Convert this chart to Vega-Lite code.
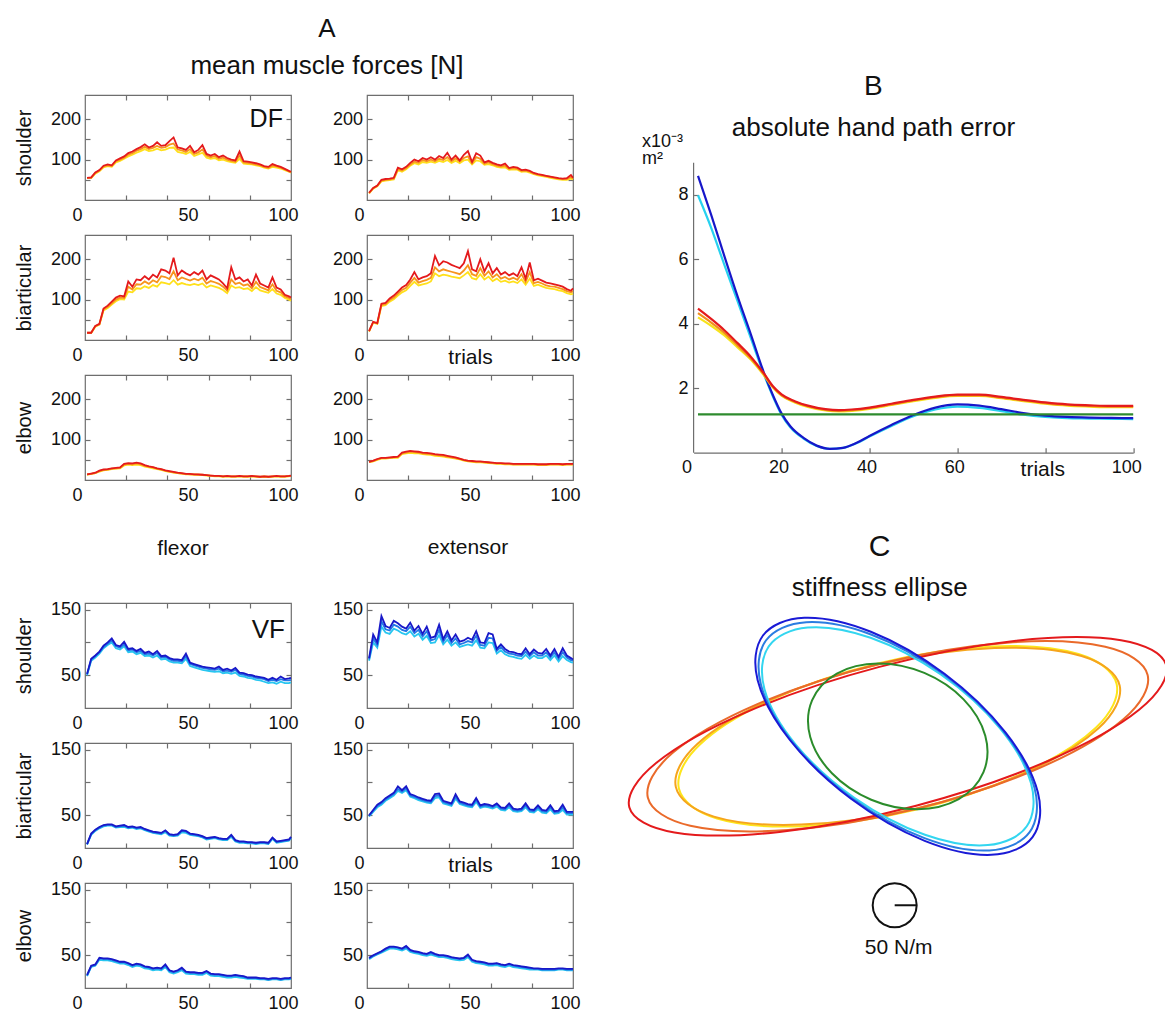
{
"$schema": "https://vega.github.io/schema/vega-lite/v6.json",
"background": "white",
"padding": {"left": 13, "top": 15, "right": 0, "bottom": 0},
"config": {
 "font": "Liberation Sans",
 "view": {"stroke": "#6e6e6e", "strokeWidth": 1.2},
 "axis": {"labelFont": "Liberation Sans", "labelFontSize": 18, "labelColor": "#111", "titleFont": "Liberation Sans", "titleFontSize": 20, "titleFontWeight": "normal", "titleColor": "#111", "grid": false, "domain": false, "tickSize": -5, "tickColor": "#6e6e6e", "tickWidth": 1.2, "labelPadding": 11, "labelFlush": false, "labelOverlap": false, "titlePadding": 16},
 "axisY": {"labelPadding": 9.5},
 "axisTop": {"labels": false},
 "axisRight": {"labels": false},
 "title": {"font": "Liberation Sans", "fontWeight": "normal", "color": "#111", "subtitleFont": "Liberation Sans", "subtitleColor": "#111"},
 "text": {"font": "Liberation Sans", "color": "#111"},
 "line": {"strokeWidth": 1.8}
},
"datasets": {
"dfSF": [{"t":1,"r":55,"o":55,"y":54},{"t":3,"r":56,"o":55,"y":54},{"t":5,"r":68,"o":67,"y":65},{"t":7,"r":74,"o":73,"y":71},{"t":9,"r":85,"o":83,"y":81},{"t":11,"r":88,"o":86,"y":84},{"t":13,"r":86,"o":84,"y":82},{"t":15,"r":98,"o":96,"y":93},{"t":17,"r":103,"o":100,"y":97},{"t":19,"r":108,"o":105,"y":102},{"t":21,"r":116,"o":112,"y":108},{"t":23,"r":120,"o":116,"y":112},{"t":25,"r":126,"o":122,"y":117},{"t":27,"r":131,"o":126,"y":121},{"t":29,"r":138,"o":132,"y":126},{"t":31,"r":130,"o":126,"y":121},{"t":33,"r":134,"o":129,"y":123},{"t":35,"r":143,"o":134,"y":127},{"t":37,"r":134,"o":129,"y":123},{"t":39,"r":136,"o":131,"y":125},{"t":41,"r":146,"o":137,"y":129},{"t":43,"r":155,"o":140,"y":130},{"t":45,"r":130,"o":125,"y":119},{"t":47,"r":128,"o":123,"y":117},{"t":49,"r":124,"o":119,"y":114},{"t":51,"r":134,"o":126,"y":119},{"t":53,"r":118,"o":114,"y":109},{"t":55,"r":124,"o":118,"y":113},{"t":57,"r":136,"o":125,"y":117},{"t":59,"r":114,"o":110,"y":105},{"t":61,"r":110,"o":106,"y":102},{"t":63,"r":114,"o":109,"y":104},{"t":65,"r":106,"o":102,"y":98},{"t":67,"r":110,"o":105,"y":100},{"t":69,"r":104,"o":100,"y":96},{"t":71,"r":100,"o":97,"y":94},{"t":73,"r":98,"o":95,"y":92},{"t":75,"r":120,"o":110,"y":102},{"t":77,"r":96,"o":93,"y":90},{"t":79,"r":95,"o":92,"y":89},{"t":81,"r":93,"o":90,"y":88},{"t":83,"r":91,"o":88,"y":86},{"t":85,"r":88,"o":86,"y":84},{"t":87,"r":84,"o":82,"y":80},{"t":89,"r":82,"o":80,"y":78},{"t":91,"r":89,"o":85,"y":82},{"t":93,"r":85,"o":83,"y":80},{"t":95,"r":82,"o":80,"y":78},{"t":97,"r":77,"o":76,"y":74},{"t":99,"r":72,"o":71,"y":70},{"t":100,"r":70,"o":69,"y":68}],
"dfSE": [{"t":1,"r":18,"o":17,"y":16},{"t":3,"r":30,"o":29,"y":28},{"t":5,"r":36,"o":35,"y":34},{"t":7,"r":50,"o":48,"y":46},{"t":9,"r":52,"o":50,"y":48},{"t":11,"r":53,"o":51,"y":49},{"t":13,"r":55,"o":53,"y":51},{"t":15,"r":80,"o":77,"y":74},{"t":17,"r":76,"o":73,"y":70},{"t":19,"r":82,"o":79,"y":76},{"t":21,"r":92,"o":88,"y":85},{"t":23,"r":100,"o":95,"y":91},{"t":25,"r":96,"o":92,"y":88},{"t":27,"r":104,"o":99,"y":94},{"t":29,"r":100,"o":96,"y":92},{"t":31,"r":106,"o":100,"y":95},{"t":33,"r":100,"o":96,"y":92},{"t":35,"r":109,"o":102,"y":97},{"t":37,"r":104,"o":99,"y":94},{"t":39,"r":117,"o":106,"y":99},{"t":41,"r":100,"o":96,"y":92},{"t":43,"r":110,"o":103,"y":97},{"t":45,"r":98,"o":95,"y":91},{"t":47,"r":112,"o":104,"y":98},{"t":49,"r":121,"o":108,"y":100},{"t":51,"r":94,"o":91,"y":88},{"t":53,"r":116,"o":106,"y":98},{"t":55,"r":110,"o":102,"y":96},{"t":57,"r":93,"o":90,"y":87},{"t":59,"r":97,"o":93,"y":89},{"t":61,"r":92,"o":89,"y":86},{"t":63,"r":88,"o":85,"y":82},{"t":65,"r":86,"o":83,"y":80},{"t":67,"r":90,"o":85,"y":81},{"t":69,"r":79,"o":77,"y":75},{"t":71,"r":82,"o":79,"y":76},{"t":73,"r":80,"o":77,"y":75},{"t":75,"r":74,"o":72,"y":70},{"t":77,"r":75,"o":73,"y":71},{"t":79,"r":72,"o":70,"y":68},{"t":81,"r":67,"o":65,"y":64},{"t":83,"r":64,"o":63,"y":61},{"t":85,"r":62,"o":61,"y":59},{"t":87,"r":60,"o":59,"y":57},{"t":89,"r":58,"o":57,"y":55},{"t":91,"r":56,"o":55,"y":53},{"t":93,"r":54,"o":53,"y":51},{"t":95,"r":53,"o":52,"y":50},{"t":97,"r":54,"o":52,"y":50},{"t":99,"r":62,"o":57,"y":53},{"t":100,"r":55,"o":53,"y":51}],
"dfBF": [{"t":1,"r":18,"o":18,"y":17},{"t":3,"r":18,"o":18,"y":17},{"t":5,"r":35,"o":34,"y":33},{"t":7,"r":40,"o":39,"y":38},{"t":9,"r":78,"o":76,"y":73},{"t":11,"r":85,"o":82,"y":79},{"t":13,"r":95,"o":91,"y":88},{"t":15,"r":105,"o":100,"y":96},{"t":17,"r":110,"o":105,"y":101},{"t":19,"r":108,"o":104,"y":100},{"t":21,"r":145,"o":132,"y":120},{"t":23,"r":132,"o":125,"y":118},{"t":25,"r":150,"o":138,"y":128},{"t":27,"r":148,"o":137,"y":127},{"t":29,"r":158,"o":145,"y":133},{"t":31,"r":150,"o":139,"y":129},{"t":33,"r":162,"o":148,"y":136},{"t":35,"r":155,"o":143,"y":132},{"t":37,"r":175,"o":158,"y":143},{"t":39,"r":172,"o":156,"y":141},{"t":41,"r":165,"o":151,"y":138},{"t":43,"r":204,"o":170,"y":148},{"t":45,"r":160,"o":148,"y":137},{"t":47,"r":172,"o":155,"y":141},{"t":49,"r":165,"o":151,"y":138},{"t":51,"r":160,"o":147,"y":136},{"t":53,"r":168,"o":152,"y":139},{"t":55,"r":162,"o":148,"y":136},{"t":57,"r":172,"o":154,"y":140},{"t":59,"r":150,"o":140,"y":130},{"t":61,"r":160,"o":146,"y":135},{"t":63,"r":155,"o":143,"y":132},{"t":65,"r":150,"o":139,"y":129},{"t":67,"r":140,"o":132,"y":124},{"t":69,"r":128,"o":122,"y":116},{"t":71,"r":180,"o":150,"y":135},{"t":73,"r":150,"o":139,"y":129},{"t":75,"r":155,"o":142,"y":131},{"t":77,"r":145,"o":135,"y":126},{"t":79,"r":150,"o":138,"y":128},{"t":81,"r":135,"o":128,"y":121},{"t":83,"r":162,"o":144,"y":131},{"t":85,"r":140,"o":131,"y":123},{"t":87,"r":135,"o":127,"y":120},{"t":89,"r":130,"o":123,"y":117},{"t":91,"r":155,"o":138,"y":126},{"t":93,"r":130,"o":122,"y":115},{"t":95,"r":125,"o":118,"y":112},{"t":97,"r":112,"o":108,"y":104},{"t":99,"r":108,"o":104,"y":100},{"t":100,"r":105,"o":101,"y":97}],
"dfBE": [{"t":1,"r":22,"o":22,"y":21},{"t":3,"r":45,"o":44,"y":43},{"t":5,"r":42,"o":41,"y":40},{"t":7,"r":90,"o":87,"y":84},{"t":9,"r":92,"o":89,"y":86},{"t":11,"r":103,"o":99,"y":95},{"t":13,"r":110,"o":105,"y":101},{"t":15,"r":120,"o":115,"y":110},{"t":17,"r":130,"o":124,"y":118},{"t":19,"r":136,"o":129,"y":123},{"t":21,"r":150,"o":142,"y":134},{"t":23,"r":168,"o":154,"y":144},{"t":25,"r":150,"o":142,"y":135},{"t":27,"r":155,"o":146,"y":138},{"t":29,"r":158,"o":149,"y":140},{"t":31,"r":165,"o":154,"y":145},{"t":33,"r":208,"o":180,"y":165},{"t":35,"r":185,"o":170,"y":158},{"t":37,"r":195,"o":175,"y":162},{"t":39,"r":192,"o":172,"y":160},{"t":41,"r":186,"o":169,"y":157},{"t":43,"r":182,"o":166,"y":155},{"t":45,"r":178,"o":163,"y":153},{"t":47,"r":190,"o":172,"y":160},{"t":49,"r":220,"o":185,"y":168},{"t":51,"r":175,"o":163,"y":153},{"t":53,"r":170,"o":159,"y":150},{"t":55,"r":200,"o":178,"y":163},{"t":57,"r":170,"o":159,"y":150},{"t":59,"r":190,"o":170,"y":157},{"t":61,"r":165,"o":155,"y":146},{"t":63,"r":178,"o":163,"y":152},{"t":65,"r":162,"o":152,"y":144},{"t":67,"r":168,"o":156,"y":147},{"t":69,"r":160,"o":150,"y":142},{"t":71,"r":165,"o":154,"y":145},{"t":73,"r":158,"o":149,"y":141},{"t":75,"r":180,"o":163,"y":150},{"t":77,"r":152,"o":144,"y":137},{"t":79,"r":192,"o":168,"y":152},{"t":81,"r":148,"o":141,"y":134},{"t":83,"r":152,"o":144,"y":137},{"t":85,"r":147,"o":140,"y":133},{"t":87,"r":142,"o":135,"y":129},{"t":89,"r":140,"o":133,"y":127},{"t":91,"r":138,"o":132,"y":126},{"t":93,"r":135,"o":129,"y":123},{"t":95,"r":132,"o":126,"y":121},{"t":97,"r":126,"o":121,"y":116},{"t":99,"r":122,"o":118,"y":113},{"t":100,"r":128,"o":121,"y":115}],
"dfEF": [{"t":1,"r":14,"o":14,"y":13},{"t":3,"r":16,"o":15,"y":15},{"t":5,"r":18,"o":17,"y":17},{"t":7,"r":23,"o":22,"y":21},{"t":9,"r":26,"o":25,"y":24},{"t":11,"r":27,"o":26,"y":25},{"t":13,"r":29,"o":28,"y":27},{"t":15,"r":30,"o":29,"y":28},{"t":17,"r":31,"o":30,"y":29},{"t":19,"r":40,"o":38,"y":36},{"t":21,"r":42,"o":40,"y":38},{"t":23,"r":41,"o":39,"y":37},{"t":25,"r":43,"o":41,"y":38},{"t":27,"r":41,"o":39,"y":37},{"t":29,"r":37,"o":35,"y":33},{"t":31,"r":34,"o":33,"y":31},{"t":33,"r":32,"o":31,"y":29},{"t":35,"r":29,"o":28,"y":27},{"t":37,"r":27,"o":26,"y":25},{"t":39,"r":24,"o":23,"y":22},{"t":41,"r":22,"o":21,"y":20},{"t":43,"r":20,"o":19,"y":18},{"t":45,"r":18,"o":17,"y":17},{"t":47,"r":17,"o":16,"y":16},{"t":49,"r":15,"o":15,"y":14},{"t":51,"r":15,"o":14,"y":14},{"t":53,"r":14,"o":14,"y":13},{"t":55,"r":14,"o":13,"y":13},{"t":57,"r":13,"o":13,"y":12},{"t":59,"r":12,"o":12,"y":11},{"t":61,"r":11,"o":11,"y":10},{"t":63,"r":10,"o":10,"y":9},{"t":65,"r":10,"o":10,"y":9},{"t":67,"r":9,"o":9,"y":8},{"t":69,"r":10,"o":9,"y":9},{"t":71,"r":9,"o":9,"y":8},{"t":73,"r":9,"o":9,"y":8},{"t":75,"r":10,"o":9,"y":9},{"t":77,"r":9,"o":9,"y":8},{"t":79,"r":9,"o":9,"y":8},{"t":81,"r":10,"o":9,"y":9},{"t":83,"r":9,"o":9,"y":8},{"t":85,"r":8,"o":8,"y":7},{"t":87,"r":9,"o":9,"y":8},{"t":89,"r":8,"o":8,"y":7},{"t":91,"r":9,"o":9,"y":8},{"t":93,"r":10,"o":9,"y":9},{"t":95,"r":9,"o":9,"y":8},{"t":97,"r":9,"o":9,"y":8},{"t":99,"r":10,"o":10,"y":9},{"t":100,"r":11,"o":10,"y":10}],
"dfEE": [{"t":1,"r":45,"o":45,"y":44},{"t":3,"r":48,"o":47,"y":46},{"t":5,"r":52,"o":51,"y":50},{"t":7,"r":55,"o":54,"y":53},{"t":9,"r":55,"o":54,"y":53},{"t":11,"r":56,"o":55,"y":54},{"t":13,"r":57,"o":56,"y":55},{"t":15,"r":58,"o":57,"y":55},{"t":17,"r":68,"o":66,"y":64},{"t":19,"r":70,"o":68,"y":66},{"t":21,"r":72,"o":70,"y":67},{"t":23,"r":71,"o":69,"y":66},{"t":25,"r":70,"o":68,"y":66},{"t":27,"r":68,"o":66,"y":64},{"t":29,"r":67,"o":65,"y":63},{"t":31,"r":66,"o":64,"y":62},{"t":33,"r":64,"o":62,"y":60},{"t":35,"r":63,"o":61,"y":59},{"t":37,"r":62,"o":60,"y":58},{"t":39,"r":60,"o":58,"y":56},{"t":41,"r":58,"o":56,"y":55},{"t":43,"r":56,"o":54,"y":53},{"t":45,"r":53,"o":52,"y":51},{"t":47,"r":50,"o":49,"y":48},{"t":49,"r":48,"o":47,"y":46},{"t":51,"r":47,"o":46,"y":45},{"t":53,"r":46,"o":45,"y":44},{"t":55,"r":46,"o":45,"y":44},{"t":57,"r":45,"o":44,"y":43},{"t":59,"r":44,"o":43,"y":42},{"t":61,"r":43,"o":42,"y":41},{"t":63,"r":42,"o":41,"y":40},{"t":65,"r":42,"o":41,"y":40},{"t":67,"r":41,"o":40,"y":39},{"t":69,"r":41,"o":40,"y":39},{"t":71,"r":40,"o":39,"y":38},{"t":73,"r":40,"o":39,"y":38},{"t":75,"r":40,"o":39,"y":38},{"t":77,"r":40,"o":39,"y":38},{"t":79,"r":40,"o":39,"y":38},{"t":81,"r":40,"o":39,"y":38},{"t":83,"r":39,"o":38,"y":37},{"t":85,"r":39,"o":38,"y":37},{"t":87,"r":39,"o":38,"y":37},{"t":89,"r":40,"o":39,"y":38},{"t":91,"r":40,"o":39,"y":38},{"t":93,"r":40,"o":39,"y":38},{"t":95,"r":39,"o":38,"y":37},{"t":97,"r":40,"o":39,"y":38},{"t":99,"r":40,"o":39,"y":38},{"t":100,"r":40,"o":39,"y":38}],
"vfSF": [{"t":1,"b":52,"m":51,"c":50},{"t":3,"b":75,"m":74,"c":72},{"t":5,"b":80,"m":79,"c":77},{"t":7,"b":86,"m":85,"c":83},{"t":9,"b":95,"m":93,"c":91},{"t":11,"b":100,"m":98,"c":96},{"t":13,"b":106,"m":103,"c":100},{"t":15,"b":96,"m":94,"c":91},{"t":17,"b":94,"m":92,"c":89},{"t":19,"b":101,"m":97,"c":94},{"t":21,"b":90,"m":88,"c":85},{"t":23,"b":91,"m":89,"c":86},{"t":25,"b":87,"m":85,"c":82},{"t":27,"b":90,"m":87,"c":84},{"t":29,"b":84,"m":82,"c":79},{"t":31,"b":86,"m":83,"c":80},{"t":33,"b":82,"m":80,"c":77},{"t":35,"b":87,"m":84,"c":80},{"t":37,"b":79,"m":77,"c":74},{"t":39,"b":80,"m":78,"c":75},{"t":41,"b":76,"m":74,"c":71},{"t":43,"b":74,"m":72,"c":69},{"t":45,"b":74,"m":72,"c":69},{"t":47,"b":73,"m":71,"c":68},{"t":49,"b":83,"m":79,"c":75},{"t":51,"b":69,"m":67,"c":64},{"t":53,"b":67,"m":65,"c":62},{"t":55,"b":65,"m":63,"c":60},{"t":57,"b":63,"m":61,"c":58},{"t":59,"b":62,"m":60,"c":57},{"t":61,"b":61,"m":59,"c":56},{"t":63,"b":60,"m":58,"c":55},{"t":65,"b":63,"m":60,"c":56},{"t":67,"b":58,"m":56,"c":53},{"t":69,"b":60,"m":57,"c":54},{"t":71,"b":57,"m":55,"c":52},{"t":73,"b":61,"m":58,"c":54},{"t":75,"b":54,"m":52,"c":49},{"t":77,"b":53,"m":51,"c":48},{"t":79,"b":51,"m":49,"c":46},{"t":81,"b":50,"m":48,"c":45},{"t":83,"b":48,"m":46,"c":43},{"t":85,"b":47,"m":45,"c":42},{"t":87,"b":46,"m":44,"c":40},{"t":89,"b":43,"m":41,"c":38},{"t":91,"b":46,"m":43,"c":39},{"t":93,"b":43,"m":41,"c":37},{"t":95,"b":48,"m":44,"c":40},{"t":97,"b":44,"m":42,"c":38},{"t":99,"b":45,"m":42,"c":38},{"t":100,"b":46,"m":43,"c":39}],
"vfSE": [{"t":1,"b":76,"m":74,"c":72},{"t":3,"b":112,"m":106,"c":100},{"t":5,"b":100,"m":96,"c":92},{"t":7,"b":140,"m":132,"c":124},{"t":9,"b":125,"m":120,"c":115},{"t":11,"b":122,"m":118,"c":113},{"t":13,"b":133,"m":127,"c":121},{"t":15,"b":129,"m":124,"c":118},{"t":17,"b":124,"m":119,"c":114},{"t":19,"b":121,"m":117,"c":112},{"t":21,"b":130,"m":124,"c":117},{"t":23,"b":118,"m":114,"c":109},{"t":25,"b":125,"m":119,"c":113},{"t":27,"b":113,"m":109,"c":104},{"t":29,"b":124,"m":117,"c":110},{"t":31,"b":107,"m":103,"c":99},{"t":33,"b":109,"m":105,"c":100},{"t":35,"b":127,"m":119,"c":111},{"t":37,"b":105,"m":101,"c":97},{"t":39,"b":117,"m":111,"c":104},{"t":41,"b":103,"m":99,"c":95},{"t":43,"b":112,"m":106,"c":100},{"t":45,"b":101,"m":97,"c":93},{"t":47,"b":103,"m":99,"c":95},{"t":49,"b":107,"m":102,"c":97},{"t":51,"b":104,"m":100,"c":95},{"t":53,"b":117,"m":110,"c":103},{"t":55,"b":100,"m":96,"c":92},{"t":57,"b":99,"m":95,"c":91},{"t":59,"b":114,"m":107,"c":100},{"t":61,"b":112,"m":106,"c":99},{"t":63,"b":90,"m":87,"c":83},{"t":65,"b":97,"m":93,"c":88},{"t":67,"b":90,"m":86,"c":82},{"t":69,"b":86,"m":83,"c":79},{"t":71,"b":85,"m":82,"c":78},{"t":73,"b":83,"m":80,"c":76},{"t":75,"b":82,"m":79,"c":75},{"t":77,"b":91,"m":86,"c":81},{"t":79,"b":82,"m":79,"c":75},{"t":81,"b":89,"m":85,"c":80},{"t":83,"b":84,"m":80,"c":76},{"t":85,"b":83,"m":80,"c":76},{"t":87,"b":90,"m":85,"c":80},{"t":89,"b":80,"m":77,"c":73},{"t":91,"b":90,"m":85,"c":80},{"t":93,"b":78,"m":75,"c":71},{"t":95,"b":91,"m":85,"c":79},{"t":97,"b":80,"m":77,"c":73},{"t":99,"b":76,"m":73,"c":70},{"t":100,"b":74,"m":72,"c":69}],
"vfBF": [{"t":1,"b":6,"m":6,"c":5},{"t":3,"b":22,"m":21,"c":20},{"t":5,"b":28,"m":27,"c":26},{"t":7,"b":32,"m":31,"c":30},{"t":9,"b":35,"m":34,"c":33},{"t":11,"b":36,"m":35,"c":34},{"t":13,"b":36,"m":35,"c":34},{"t":15,"b":33,"m":32,"c":31},{"t":17,"b":34,"m":33,"c":32},{"t":19,"b":35,"m":34,"c":32},{"t":21,"b":32,"m":31,"c":30},{"t":23,"b":33,"m":32,"c":31},{"t":25,"b":31,"m":30,"c":29},{"t":27,"b":32,"m":31,"c":30},{"t":29,"b":29,"m":28,"c":27},{"t":31,"b":27,"m":26,"c":25},{"t":33,"b":25,"m":24,"c":23},{"t":35,"b":24,"m":23,"c":22},{"t":37,"b":23,"m":22,"c":21},{"t":39,"b":27,"m":26,"c":24},{"t":41,"b":21,"m":20,"c":19},{"t":43,"b":20,"m":19,"c":18},{"t":45,"b":21,"m":20,"c":19},{"t":47,"b":27,"m":26,"c":24},{"t":49,"b":26,"m":25,"c":23},{"t":51,"b":22,"m":21,"c":20},{"t":53,"b":21,"m":20,"c":19},{"t":55,"b":20,"m":19,"c":18},{"t":57,"b":18,"m":17,"c":16},{"t":59,"b":15,"m":14,"c":13},{"t":61,"b":16,"m":15,"c":14},{"t":63,"b":17,"m":16,"c":15},{"t":65,"b":15,"m":14,"c":13},{"t":67,"b":14,"m":13,"c":12},{"t":69,"b":14,"m":13,"c":12},{"t":71,"b":20,"m":19,"c":17},{"t":73,"b":12,"m":11,"c":10},{"t":75,"b":10,"m":9,"c":8},{"t":77,"b":10,"m":9,"c":8},{"t":79,"b":9,"m":8,"c":7},{"t":81,"b":9,"m":8,"c":7},{"t":83,"b":8,"m":7,"c":6},{"t":85,"b":9,"m":8,"c":7},{"t":87,"b":9,"m":8,"c":7},{"t":89,"b":8,"m":7,"c":6},{"t":91,"b":16,"m":15,"c":14},{"t":93,"b":10,"m":9,"c":8},{"t":95,"b":11,"m":10,"c":9},{"t":97,"b":12,"m":11,"c":10},{"t":99,"b":13,"m":12,"c":11},{"t":100,"b":17,"m":16,"c":15}],
"vfBE": [{"t":1,"b":50,"m":49,"c":48},{"t":3,"b":58,"m":57,"c":55},{"t":5,"b":66,"m":64,"c":62},{"t":7,"b":70,"m":68,"c":66},{"t":9,"b":76,"m":74,"c":72},{"t":11,"b":80,"m":78,"c":76},{"t":13,"b":84,"m":82,"c":80},{"t":15,"b":94,"m":90,"c":87},{"t":17,"b":88,"m":86,"c":84},{"t":19,"b":94,"m":91,"c":88},{"t":21,"b":82,"m":80,"c":78},{"t":23,"b":80,"m":78,"c":76},{"t":25,"b":77,"m":75,"c":73},{"t":27,"b":75,"m":73,"c":71},{"t":29,"b":73,"m":71,"c":69},{"t":31,"b":72,"m":70,"c":68},{"t":33,"b":82,"m":79,"c":76},{"t":35,"b":83,"m":80,"c":77},{"t":37,"b":72,"m":70,"c":68},{"t":39,"b":70,"m":68,"c":66},{"t":41,"b":68,"m":66,"c":64},{"t":43,"b":82,"m":78,"c":75},{"t":45,"b":71,"m":69,"c":67},{"t":47,"b":69,"m":67,"c":65},{"t":49,"b":67,"m":65,"c":63},{"t":51,"b":66,"m":64,"c":62},{"t":53,"b":76,"m":73,"c":70},{"t":55,"b":65,"m":63,"c":61},{"t":57,"b":67,"m":65,"c":63},{"t":59,"b":66,"m":64,"c":62},{"t":61,"b":64,"m":62,"c":60},{"t":63,"b":68,"m":66,"c":63},{"t":65,"b":62,"m":60,"c":58},{"t":67,"b":61,"m":59,"c":57},{"t":69,"b":68,"m":65,"c":62},{"t":71,"b":60,"m":58,"c":56},{"t":73,"b":59,"m":57,"c":55},{"t":75,"b":60,"m":58,"c":56},{"t":77,"b":68,"m":65,"c":62},{"t":79,"b":59,"m":57,"c":55},{"t":81,"b":58,"m":56,"c":54},{"t":83,"b":65,"m":62,"c":59},{"t":85,"b":58,"m":56,"c":54},{"t":87,"b":57,"m":55,"c":53},{"t":89,"b":65,"m":62,"c":59},{"t":91,"b":56,"m":54,"c":52},{"t":93,"b":57,"m":55,"c":53},{"t":95,"b":66,"m":62,"c":58},{"t":97,"b":55,"m":53,"c":51},{"t":99,"b":55,"m":53,"c":51},{"t":100,"b":55,"m":53,"c":51}],
"vfEF": [{"t":1,"b":20,"m":19,"c":18},{"t":3,"b":34,"m":33,"c":32},{"t":5,"b":36,"m":35,"c":34},{"t":7,"b":46,"m":45,"c":43},{"t":9,"b":45,"m":44,"c":42},{"t":11,"b":45,"m":44,"c":42},{"t":13,"b":44,"m":43,"c":41},{"t":15,"b":42,"m":41,"c":39},{"t":17,"b":40,"m":39,"c":37},{"t":19,"b":40,"m":39,"c":37},{"t":21,"b":38,"m":37,"c":35},{"t":23,"b":35,"m":34,"c":32},{"t":25,"b":37,"m":36,"c":34},{"t":27,"b":36,"m":35,"c":33},{"t":29,"b":33,"m":32,"c":30},{"t":31,"b":32,"m":31,"c":29},{"t":33,"b":30,"m":29,"c":27},{"t":35,"b":31,"m":30,"c":28},{"t":37,"b":30,"m":29,"c":27},{"t":39,"b":36,"m":34,"c":32},{"t":41,"b":27,"m":26,"c":24},{"t":43,"b":25,"m":24,"c":22},{"t":45,"b":27,"m":26,"c":24},{"t":47,"b":31,"m":29,"c":27},{"t":49,"b":25,"m":24,"c":22},{"t":51,"b":24,"m":23,"c":21},{"t":53,"b":24,"m":23,"c":21},{"t":55,"b":23,"m":22,"c":20},{"t":57,"b":23,"m":22,"c":20},{"t":59,"b":26,"m":25,"c":23},{"t":61,"b":22,"m":21,"c":19},{"t":63,"b":21,"m":20,"c":18},{"t":65,"b":21,"m":20,"c":18},{"t":67,"b":20,"m":19,"c":17},{"t":69,"b":19,"m":18,"c":16},{"t":71,"b":19,"m":18,"c":16},{"t":73,"b":20,"m":19,"c":17},{"t":75,"b":19,"m":18,"c":16},{"t":77,"b":18,"m":17,"c":15},{"t":79,"b":16,"m":15,"c":14},{"t":81,"b":16,"m":15,"c":14},{"t":83,"b":16,"m":15,"c":14},{"t":85,"b":15,"m":14,"c":13},{"t":87,"b":15,"m":14,"c":13},{"t":89,"b":14,"m":13,"c":12},{"t":91,"b":15,"m":14,"c":13},{"t":93,"b":15,"m":14,"c":13},{"t":95,"b":14,"m":13,"c":12},{"t":97,"b":15,"m":14,"c":13},{"t":99,"b":15,"m":14,"c":13},{"t":100,"b":16,"m":15,"c":14}],
"vfEE": [{"t":1,"b":46,"m":45,"c":44},{"t":3,"b":50,"m":49,"c":48},{"t":5,"b":53,"m":52,"c":51},{"t":7,"b":56,"m":55,"c":54},{"t":9,"b":60,"m":59,"c":57},{"t":11,"b":63,"m":62,"c":60},{"t":13,"b":63,"m":62,"c":60},{"t":15,"b":62,"m":61,"c":59},{"t":17,"b":60,"m":59,"c":57},{"t":19,"b":64,"m":62,"c":60},{"t":21,"b":58,"m":57,"c":55},{"t":23,"b":56,"m":55,"c":53},{"t":25,"b":55,"m":54,"c":52},{"t":27,"b":53,"m":52,"c":50},{"t":29,"b":52,"m":51,"c":49},{"t":31,"b":55,"m":53,"c":51},{"t":33,"b":52,"m":51,"c":49},{"t":35,"b":50,"m":49,"c":47},{"t":37,"b":50,"m":49,"c":47},{"t":39,"b":49,"m":48,"c":46},{"t":41,"b":47,"m":46,"c":44},{"t":43,"b":46,"m":45,"c":43},{"t":45,"b":45,"m":44,"c":42},{"t":47,"b":46,"m":45,"c":43},{"t":49,"b":51,"m":49,"c":47},{"t":51,"b":43,"m":42,"c":40},{"t":53,"b":41,"m":40,"c":38},{"t":55,"b":40,"m":39,"c":37},{"t":57,"b":39,"m":38,"c":36},{"t":59,"b":37,"m":36,"c":34},{"t":61,"b":37,"m":36,"c":34},{"t":63,"b":38,"m":37,"c":35},{"t":65,"b":36,"m":35,"c":33},{"t":67,"b":35,"m":34,"c":32},{"t":69,"b":37,"m":36,"c":34},{"t":71,"b":35,"m":34,"c":32},{"t":73,"b":34,"m":33,"c":31},{"t":75,"b":33,"m":32,"c":30},{"t":77,"b":32,"m":31,"c":29},{"t":79,"b":31,"m":30,"c":28},{"t":81,"b":30,"m":29,"c":28},{"t":83,"b":30,"m":29,"c":28},{"t":85,"b":29,"m":28,"c":27},{"t":87,"b":29,"m":28,"c":27},{"t":89,"b":29,"m":28,"c":27},{"t":91,"b":29,"m":28,"c":27},{"t":93,"b":30,"m":29,"c":28},{"t":95,"b":30,"m":29,"c":28},{"t":97,"b":29,"m":28,"c":27},{"t":99,"b":29,"m":28,"c":27},{"t":100,"b":29,"m":28,"c":27}],
"hpe": [
{"series":"cyan","trial":1,"error":7.99},{"series":"cyan","trial":4,"error":6.98},{"series":"cyan","trial":7,"error":5.83},{"series":"cyan","trial":10,"error":4.7},{"series":"cyan","trial":13,"error":3.56},{"series":"cyan","trial":16,"error":2.43},{"series":"cyan","trial":18,"error":1.76},{"series":"cyan","trial":20,"error":1.18},{"series":"cyan","trial":22,"error":0.79},{"series":"cyan","trial":25,"error":0.44},{"series":"cyan","trial":28,"error":0.21},{"series":"cyan","trial":31,"error":0.12},{"series":"cyan","trial":34,"error":0.15},{"series":"cyan","trial":37,"error":0.29},{"series":"cyan","trial":40,"error":0.5},{"series":"cyan","trial":45,"error":0.83},{"series":"cyan","trial":50,"error":1.13},{"series":"cyan","trial":55,"error":1.34},{"series":"cyan","trial":60,"error":1.43},{"series":"cyan","trial":65,"error":1.39},{"series":"cyan","trial":70,"error":1.29},{"series":"cyan","trial":75,"error":1.18},{"series":"cyan","trial":80,"error":1.11},{"series":"cyan","trial":85,"error":1.07},{"series":"cyan","trial":90,"error":1.06},{"series":"cyan","trial":95,"error":1.05},{"series":"cyan","trial":100,"error":1.04},
{"series":"blue","trial":1,"error":8.59},{"series":"blue","trial":4,"error":7.38},{"series":"blue","trial":7,"error":6.1},{"series":"blue","trial":10,"error":4.85},{"series":"blue","trial":13,"error":3.68},{"series":"blue","trial":16,"error":2.48},{"series":"blue","trial":18,"error":1.8},{"series":"blue","trial":20,"error":1.22},{"series":"blue","trial":22,"error":0.82},{"series":"blue","trial":25,"error":0.46},{"series":"blue","trial":28,"error":0.22},{"series":"blue","trial":31,"error":0.12},{"series":"blue","trial":34,"error":0.15},{"series":"blue","trial":37,"error":0.3},{"series":"blue","trial":40,"error":0.52},{"series":"blue","trial":45,"error":0.86},{"series":"blue","trial":50,"error":1.17},{"series":"blue","trial":55,"error":1.4},{"series":"blue","trial":60,"error":1.5},{"series":"blue","trial":65,"error":1.46},{"series":"blue","trial":70,"error":1.35},{"series":"blue","trial":75,"error":1.23},{"series":"blue","trial":80,"error":1.15},{"series":"blue","trial":85,"error":1.11},{"series":"blue","trial":90,"error":1.09},{"series":"blue","trial":95,"error":1.08},{"series":"blue","trial":100,"error":1.07},
{"series":"yellow","trial":1,"error":4.2},{"series":"yellow","trial":4,"error":3.94},{"series":"yellow","trial":7,"error":3.64},{"series":"yellow","trial":10,"error":3.27},{"series":"yellow","trial":13,"error":2.89},{"series":"yellow","trial":16,"error":2.4},{"series":"yellow","trial":18,"error":2.03},{"series":"yellow","trial":20,"error":1.77},{"series":"yellow","trial":23,"error":1.56},{"series":"yellow","trial":26,"error":1.42},{"series":"yellow","trial":30,"error":1.31},{"series":"yellow","trial":33,"error":1.28},{"series":"yellow","trial":36,"error":1.3},{"series":"yellow","trial":40,"error":1.36},{"series":"yellow","trial":45,"error":1.48},{"series":"yellow","trial":50,"error":1.6},{"series":"yellow","trial":55,"error":1.7},{"series":"yellow","trial":60,"error":1.76},{"series":"yellow","trial":65,"error":1.76},{"series":"yellow","trial":70,"error":1.69},{"series":"yellow","trial":75,"error":1.6},{"series":"yellow","trial":80,"error":1.52},{"series":"yellow","trial":85,"error":1.46},{"series":"yellow","trial":90,"error":1.43},{"series":"yellow","trial":95,"error":1.41},{"series":"yellow","trial":100,"error":1.41},
{"series":"orange","trial":1,"error":4.33},{"series":"orange","trial":4,"error":4.04},{"series":"orange","trial":7,"error":3.72},{"series":"orange","trial":10,"error":3.33},{"series":"orange","trial":13,"error":2.93},{"series":"orange","trial":16,"error":2.43},{"series":"orange","trial":18,"error":2.05},{"series":"orange","trial":20,"error":1.79},{"series":"orange","trial":23,"error":1.58},{"series":"orange","trial":26,"error":1.44},{"series":"orange","trial":30,"error":1.33},{"series":"orange","trial":33,"error":1.3},{"series":"orange","trial":36,"error":1.32},{"series":"orange","trial":40,"error":1.38},{"series":"orange","trial":45,"error":1.5},{"series":"orange","trial":50,"error":1.62},{"series":"orange","trial":55,"error":1.72},{"series":"orange","trial":60,"error":1.78},{"series":"orange","trial":65,"error":1.78},{"series":"orange","trial":70,"error":1.71},{"series":"orange","trial":75,"error":1.62},{"series":"orange","trial":80,"error":1.54},{"series":"orange","trial":85,"error":1.48},{"series":"orange","trial":90,"error":1.45},{"series":"orange","trial":95,"error":1.43},{"series":"orange","trial":100,"error":1.43},
{"series":"red","trial":1,"error":4.47},{"series":"red","trial":4,"error":4.15},{"series":"red","trial":7,"error":3.8},{"series":"red","trial":10,"error":3.4},{"series":"red","trial":13,"error":2.98},{"series":"red","trial":16,"error":2.46},{"series":"red","trial":18,"error":2.07},{"series":"red","trial":20,"error":1.81},{"series":"red","trial":23,"error":1.6},{"series":"red","trial":26,"error":1.46},{"series":"red","trial":30,"error":1.35},{"series":"red","trial":33,"error":1.32},{"series":"red","trial":36,"error":1.34},{"series":"red","trial":40,"error":1.4},{"series":"red","trial":45,"error":1.52},{"series":"red","trial":50,"error":1.64},{"series":"red","trial":55,"error":1.74},{"series":"red","trial":60,"error":1.8},{"series":"red","trial":65,"error":1.8},{"series":"red","trial":70,"error":1.73},{"series":"red","trial":75,"error":1.64},{"series":"red","trial":80,"error":1.56},{"series":"red","trial":85,"error":1.5},{"series":"red","trial":90,"error":1.47},{"series":"red","trial":95,"error":1.45},{"series":"red","trial":100,"error":1.45},
{"series":"green","trial":1,"error":1.19},{"series":"green","trial":100,"error":1.19}],
"ell": [
{"e":"yellow","k":0,"kx":497.3,"ky":119.4},{"e":"yellow","k":1,"kx":410.6,"ky":186.9},{"e":"yellow","k":2,"kx":214.0,"ky":204.2},{"e":"yellow","k":3,"kx":-40.1,"ky":166.9},{"e":"yellow","k":4,"kx":-283.4,"ky":84.8},{"e":"yellow","k":5,"kx":-450.8,"ky":-19.9},{"e":"yellow","k":6,"kx":-497.3,"ky":-119.4},{"e":"yellow","k":7,"kx":-410.6,"ky":-186.9},{"e":"yellow","k":8,"kx":-214.0,"ky":-204.2},{"e":"yellow","k":9,"kx":40.1,"ky":-166.9},{"e":"yellow","k":10,"kx":283.4,"ky":-84.8},{"e":"yellow","k":11,"kx":450.8,"ky":19.9},
{"e":"gold","k":0,"kx":504.3,"ky":115.5},{"e":"gold","k":1,"kx":417.8,"ky":182.5},{"e":"gold","k":2,"kx":219.5,"ky":200.7},{"e":"gold","k":3,"kx":-37.8,"ky":165.0},{"e":"gold","k":4,"kx":-284.9,"ky":85.1},{"e":"gold","k":5,"kx":-455.6,"ky":-17.5},{"e":"gold","k":6,"kx":-504.3,"ky":-115.5},{"e":"gold","k":7,"kx":-417.8,"ky":-182.5},{"e":"gold","k":8,"kx":-219.5,"ky":-200.7},{"e":"gold","k":9,"kx":37.8,"ky":-165.0},{"e":"gold","k":10,"kx":284.9,"ky":-85.1},{"e":"gold","k":11,"kx":455.6,"ky":17.5},
{"e":"orange","k":0,"kx":567.9,"ky":139.5},{"e":"orange","k":1,"kx":471.5,"ky":203.4},{"e":"orange","k":2,"kx":248.9,"ky":212.8},{"e":"orange","k":3,"kx":-40.5,"ky":165.1},{"e":"orange","k":4,"kx":-319.1,"ky":73.2},{"e":"orange","k":5,"kx":-512.1,"ky":-38.2},{"e":"orange","k":6,"kx":-567.9,"ky":-139.5},{"e":"orange","k":7,"kx":-471.5,"ky":-203.4},{"e":"orange","k":8,"kx":-248.9,"ky":-212.8},{"e":"orange","k":9,"kx":40.5,"ky":-165.1},{"e":"orange","k":10,"kx":319.1,"ky":-73.2},{"e":"orange","k":11,"kx":512.1,"ky":38.2},
{"e":"red","k":0,"kx":610.1,"ky":161.2},{"e":"red","k":1,"kx":507.4,"ky":218.5},{"e":"red","k":2,"kx":269.0,"ky":217.3},{"e":"red","k":3,"kx":-41.7,"ky":157.8},{"e":"red","k":4,"kx":-341.2,"ky":56.1},{"e":"red","k":5,"kx":-549.2,"ky":-60.7},{"e":"red","k":6,"kx":-610.1,"ky":-161.2},{"e":"red","k":7,"kx":-507.4,"ky":-218.5},{"e":"red","k":8,"kx":-269.0,"ky":-217.3},{"e":"red","k":9,"kx":41.7,"ky":-157.8},{"e":"red","k":10,"kx":341.2,"ky":-56.1},{"e":"red","k":11,"kx":549.2,"ky":60.7},
{"e":"cyan","k":0,"kx":293.2,"ky":-204.5},{"e":"cyan","k":1,"kx":302.9,"ky":-106.9},{"e":"cyan","k":2,"kx":231.4,"ky":19.3},{"e":"cyan","k":3,"kx":97.9,"ky":140.4},{"e":"cyan","k":4,"kx":-61.8,"ky":223.9},{"e":"cyan","k":5,"kx":-204.9,"ky":247.3},{"e":"cyan","k":6,"kx":-293.2,"ky":204.5},{"e":"cyan","k":7,"kx":-302.9,"ky":106.9},{"e":"cyan","k":8,"kx":-231.4,"ky":-19.3},{"e":"cyan","k":9,"kx":-97.9,"ky":-140.4},{"e":"cyan","k":10,"kx":61.8,"ky":-223.9},{"e":"cyan","k":11,"kx":204.9,"ky":-247.3},
{"e":"midblue","k":0,"kx":299.7,"ky":-217.8},{"e":"midblue","k":1,"kx":311.0,"ky":-117.8},{"e":"midblue","k":2,"kx":239.0,"ky":13.7},{"e":"midblue","k":3,"kx":102.9,"ky":141.6},{"e":"midblue","k":4,"kx":-60.8,"ky":231.5},{"e":"midblue","k":5,"kx":-208.0,"ky":259.4},{"e":"midblue","k":6,"kx":-299.7,"ky":217.8},{"e":"midblue","k":7,"kx":-311.0,"ky":117.8},{"e":"midblue","k":8,"kx":-239.0,"ky":-13.7},{"e":"midblue","k":9,"kx":-102.9,"ky":-141.6},{"e":"midblue","k":10,"kx":60.8,"ky":-231.5},{"e":"midblue","k":11,"kx":208.0,"ky":-259.4},
{"e":"blue","k":0,"kx":306.3,"ky":-229.1},{"e":"blue","k":1,"kx":318.4,"ky":-127.4},{"e":"blue","k":2,"kx":245.2,"ky":8.4},{"e":"blue","k":3,"kx":106.2,"ky":142.0},{"e":"blue","k":4,"kx":-61.2,"ky":237.6},{"e":"blue","k":5,"kx":-212.2,"ky":269.4},{"e":"blue","k":6,"kx":-306.3,"ky":229.1},{"e":"blue","k":7,"kx":-318.4,"ky":127.4},{"e":"blue","k":8,"kx":-245.2,"ky":-8.4},{"e":"blue","k":9,"kx":-106.2,"ky":-142.0},{"e":"blue","k":10,"kx":61.2,"ky":-237.6},{"e":"blue","k":11,"kx":212.2,"ky":-269.4},
{"e":"green","k":0,"kx":194.8,"ky":-81.5},{"e":"green","k":1,"kx":198.9,"ky":1.5},{"e":"green","k":2,"kx":149.6,"ky":84.0},{"e":"green","k":3,"kx":60.3,"ky":144.1},{"e":"green","k":4,"kx":-45.2,"ky":165.6},{"e":"green","k":5,"kx":-138.5,"ky":142.7},{"e":"green","k":6,"kx":-194.8,"ky":81.5},{"e":"green","k":7,"kx":-198.9,"ky":-1.5},{"e":"green","k":8,"kx":-149.6,"ky":-84.0},{"e":"green","k":9,"kx":-60.3,"ky":-144.1},{"e":"green","k":10,"kx":45.2,"ky":-165.6},{"e":"green","k":11,"kx":138.5,"ky":-142.7},
{"e":"scale","k":0,"kx":43,"ky":-384},{"e":"scale","k":1,"kx":36.3,"ky":-359},{"e":"scale","k":2,"kx":18,"ky":-340.7},{"e":"scale","k":3,"kx":-7,"ky":-334},{"e":"scale","k":4,"kx":-32,"ky":-340.7},{"e":"scale","k":5,"kx":-50.3,"ky":-359},{"e":"scale","k":6,"kx":-57,"ky":-384},{"e":"scale","k":7,"kx":-50.3,"ky":-409},{"e":"scale","k":8,"kx":-32,"ky":-427.3},{"e":"scale","k":9,"kx":-7,"ky":-434},{"e":"scale","k":10,"kx":18,"ky":-427.3},{"e":"scale","k":11,"kx":36.3,"ky":-409}]
},
"resolve": {"scale": {"color": "independent"}},
"spacing": 43.6,
"hconcat": [
{
 "title": {"text": "A", "subtitle": "mean muscle forces [N]", "fontSize": 26, "subtitleFontSize": 26, "anchor": "start", "frame": "group", "align": "center", "dx": 242, "offset": 15, "subtitlePadding": 11},
 "bounds": "flush",
 "align": "each",
 "columns": 2,
 "spacing": {"row": 35, "column": 76},
 "resolve": {"scale": {"color": "independent"}},
 "concat": [
   {"width": 206, "height": 105, "resolve": {"axis": {"x": "independent", "y": "independent"}}, "layer": [
    {"data": {"name": "dfSF"}, "transform": [{"fold": ["y","o","r"], "as": ["series","force"]}], "mark": {"type": "line"},
     "encoding": {
      "x": {"field": "t", "type": "quantitative", "scale": {"domain": [0,100]}, "axis": {"values": [0,20,40,50,60,80,100], "labelExpr": "datum.value % 50 == 0 ? datum.label : ''", "tickOpacity": {"condition": {"test": "datum.value % 50 == 0", "value": 0}, "value": 1}, "labelOffset": {"condition": {"test": "datum.value != 50", "value": -8}, "value": 0}, "title": null}},
      "y": {"field": "force", "type": "quantitative", "scale": {"domain": [0,250]}, "axis": {"values": [50,100,150,200], "labelExpr": "datum.value % 100 == 0 ? datum.label : ''", "title": "shoulder"}},
      "color": {"field": "series", "type": "nominal", "scale": {"domain": ["y","o","r"], "range": ["#ffe01b","#f7941d","#e41a1c"]}, "legend": null}}},
    {"data": {"values": []}, "mark": "point", "encoding": {"x": {"field": "t", "type": "quantitative", "axis": {"orient": "top", "values": [20,40,60,80], "title": null}}, "y": {"field": "force", "type": "quantitative", "axis": {"orient": "right", "values": [50,100,150,200], "title": null}}}},
    {"data": {"values": [{"t": 88, "force": 200, "label": "DF"}]}, "mark": {"type": "text", "fontSize": 25, "align": "center", "baseline": "middle"},
     "encoding": {"x": {"field": "t", "type": "quantitative", "axis": null}, "y": {"field": "force", "type": "quantitative", "axis": null}, "text": {"field": "label"}}}
   ]},
   {"width": 206, "height": 105, "resolve": {"axis": {"x": "independent", "y": "independent"}}, "layer": [
    {"data": {"name": "dfSE"}, "transform": [{"fold": ["y","o","r"], "as": ["series","force"]}], "mark": {"type": "line"},
     "encoding": {
      "x": {"field": "t", "type": "quantitative", "scale": {"domain": [0,100]}, "axis": {"values": [0,20,40,50,60,80,100], "labelExpr": "datum.value % 50 == 0 ? datum.label : ''", "tickOpacity": {"condition": {"test": "datum.value % 50 == 0", "value": 0}, "value": 1}, "labelOffset": {"condition": {"test": "datum.value != 50", "value": -8}, "value": 0}, "title": null}},
      "y": {"field": "force", "type": "quantitative", "scale": {"domain": [0,250]}, "axis": {"values": [50,100,150,200], "labelExpr": "datum.value % 100 == 0 ? datum.label : ''", "title": null}},
      "color": {"field": "series", "type": "nominal", "scale": {"domain": ["y","o","r"], "range": ["#ffe01b","#f7941d","#e41a1c"]}, "legend": null}}},
    {"data": {"values": []}, "mark": "point", "encoding": {"x": {"field": "t", "type": "quantitative", "axis": {"orient": "top", "values": [20,40,60,80], "title": null}}, "y": {"field": "force", "type": "quantitative", "axis": {"orient": "right", "values": [50,100,150,200], "title": null}}}}
   ]},
   {"width": 206, "height": 105, "resolve": {"axis": {"x": "independent", "y": "independent"}}, "layer": [
    {"data": {"name": "dfBF"}, "transform": [{"fold": ["y","o","r"], "as": ["series","force"]}], "mark": {"type": "line"},
     "encoding": {
      "x": {"field": "t", "type": "quantitative", "scale": {"domain": [0,100]}, "axis": {"values": [0,20,40,50,60,80,100], "labelExpr": "datum.value % 50 == 0 ? datum.label : ''", "tickOpacity": {"condition": {"test": "datum.value % 50 == 0", "value": 0}, "value": 1}, "labelOffset": {"condition": {"test": "datum.value != 50", "value": -8}, "value": 0}, "title": null}},
      "y": {"field": "force", "type": "quantitative", "scale": {"domain": [0,250]}, "axis": {"values": [50,100,150,200], "labelExpr": "datum.value % 100 == 0 ? datum.label : ''", "title": "biarticular"}},
      "color": {"field": "series", "type": "nominal", "scale": {"domain": ["y","o","r"], "range": ["#ffe01b","#f7941d","#e41a1c"]}, "legend": null}}},
    {"data": {"values": []}, "mark": "point", "encoding": {"x": {"field": "t", "type": "quantitative", "axis": {"orient": "top", "values": [20,40,60,80], "title": null}}, "y": {"field": "force", "type": "quantitative", "axis": {"orient": "right", "values": [50,100,150,200], "title": null}}}}
   ]},
   {"width": 206, "height": 105, "resolve": {"axis": {"x": "independent", "y": "independent"}}, "layer": [
    {"data": {"name": "dfBE"}, "transform": [{"fold": ["y","o","r"], "as": ["series","force"]}], "mark": {"type": "line"},
     "encoding": {
      "x": {"field": "t", "type": "quantitative", "scale": {"domain": [0,100]}, "axis": {"values": [0,20,40,50,60,80,100], "labelExpr": "datum.value == 50 ? 'trials' : (datum.value % 50 == 0 ? datum.label : '')", "labelFontSize": {"condition": {"test": "datum.value == 50", "value": 21}, "value": 18}, "tickOpacity": {"condition": {"test": "datum.value % 50 == 0", "value": 0}, "value": 1}, "labelOffset": {"condition": {"test": "datum.value != 50", "value": -8}, "value": 0}, "title": null}},
      "y": {"field": "force", "type": "quantitative", "scale": {"domain": [0,250]}, "axis": {"values": [50,100,150,200], "labelExpr": "datum.value % 100 == 0 ? datum.label : ''", "title": null}},
      "color": {"field": "series", "type": "nominal", "scale": {"domain": ["y","o","r"], "range": ["#ffe01b","#f7941d","#e41a1c"]}, "legend": null}}},
    {"data": {"values": []}, "mark": "point", "encoding": {"x": {"field": "t", "type": "quantitative", "axis": {"orient": "top", "values": [20,40,60,80], "title": null}}, "y": {"field": "force", "type": "quantitative", "axis": {"orient": "right", "values": [50,100,150,200], "title": null}}}}
   ]},
   {"width": 206, "height": 105, "resolve": {"axis": {"x": "independent", "y": "independent"}}, "layer": [
    {"data": {"name": "dfEF"}, "transform": [{"fold": ["y","o","r"], "as": ["series","force"]}], "mark": {"type": "line"},
     "encoding": {
      "x": {"field": "t", "type": "quantitative", "scale": {"domain": [0,100]}, "axis": {"values": [0,20,40,50,60,80,100], "labelExpr": "datum.value % 50 == 0 ? datum.label : ''", "tickOpacity": {"condition": {"test": "datum.value % 50 == 0", "value": 0}, "value": 1}, "labelOffset": {"condition": {"test": "datum.value != 50", "value": -8}, "value": 0}, "title": null}},
      "y": {"field": "force", "type": "quantitative", "scale": {"domain": [0,250]}, "axis": {"values": [50,100,150,200], "labelExpr": "datum.value % 100 == 0 ? datum.label : ''", "title": "elbow"}},
      "color": {"field": "series", "type": "nominal", "scale": {"domain": ["y","o","r"], "range": ["#ffe01b","#f7941d","#e41a1c"]}, "legend": null}}},
    {"data": {"values": []}, "mark": "point", "encoding": {"x": {"field": "t", "type": "quantitative", "axis": {"orient": "top", "values": [20,40,60,80], "title": null}}, "y": {"field": "force", "type": "quantitative", "axis": {"orient": "right", "values": [50,100,150,200], "title": null}}}}
   ]},
   {"width": 206, "height": 105, "resolve": {"axis": {"x": "independent", "y": "independent"}}, "layer": [
    {"data": {"name": "dfEE"}, "transform": [{"fold": ["y","o","r"], "as": ["series","force"]}], "mark": {"type": "line"},
     "encoding": {
      "x": {"field": "t", "type": "quantitative", "scale": {"domain": [0,100]}, "axis": {"values": [0,20,40,50,60,80,100], "labelExpr": "datum.value % 50 == 0 ? datum.label : ''", "tickOpacity": {"condition": {"test": "datum.value % 50 == 0", "value": 0}, "value": 1}, "labelOffset": {"condition": {"test": "datum.value != 50", "value": -8}, "value": 0}, "title": null}},
      "y": {"field": "force", "type": "quantitative", "scale": {"domain": [0,250]}, "axis": {"values": [50,100,150,200], "labelExpr": "datum.value % 100 == 0 ? datum.label : ''", "title": null}},
      "color": {"field": "series", "type": "nominal", "scale": {"domain": ["y","o","r"], "range": ["#ffe01b","#f7941d","#e41a1c"]}, "legend": null}}},
    {"data": {"values": []}, "mark": "point", "encoding": {"x": {"field": "t", "type": "quantitative", "axis": {"orient": "top", "values": [20,40,60,80], "title": null}}, "y": {"field": "force", "type": "quantitative", "axis": {"orient": "right", "values": [50,100,150,200], "title": null}}}}
   ]},
   {"width": 206, "height": 53, "data": {"values": []}, "mark": "point", "view": {"stroke": null}},
   {"width": 206, "height": 53, "data": {"values": []}, "mark": "point", "view": {"stroke": null}},
   {"width": 206, "height": 105, "title": {"text": "flexor", "fontSize": 21, "anchor": "middle", "frame": "group", "dx": -5, "offset": 42}, "resolve": {"axis": {"x": "independent", "y": "independent"}}, "layer": [
    {"data": {"name": "vfSF"}, "transform": [{"fold": ["c","m","b"], "as": ["series","force"]}], "mark": {"type": "line"},
     "encoding": {
      "x": {"field": "t", "type": "quantitative", "scale": {"domain": [0,100]}, "axis": {"values": [0,20,40,50,60,80,100], "labelExpr": "datum.value % 50 == 0 ? datum.label : ''", "tickOpacity": {"condition": {"test": "datum.value % 50 == 0", "value": 0}, "value": 1}, "labelOffset": {"condition": {"test": "datum.value != 50", "value": -8}, "value": 0}, "title": null}},
      "y": {"field": "force", "type": "quantitative", "scale": {"domain": [0,150]}, "axis": {"values": [50,100,150], "labelExpr": "datum.value == 100 ? '' : datum.label", "title": "shoulder"}},
      "color": {"field": "series", "type": "nominal", "scale": {"domain": ["c","m","b"], "range": ["#27c6f0","#2277e6","#1818c8"]}, "legend": null}}},
    {"data": {"values": []}, "mark": "point", "encoding": {"x": {"field": "t", "type": "quantitative", "axis": {"orient": "top", "values": [20,40,60,80], "title": null}}, "y": {"field": "force", "type": "quantitative", "axis": {"orient": "right", "values": [50,100], "title": null}}}},
    {"data": {"values": [{"t": 89, "force": 119, "label": "VF"}]}, "mark": {"type": "text", "fontSize": 26, "align": "center", "baseline": "middle"},
     "encoding": {"x": {"field": "t", "type": "quantitative", "axis": null}, "y": {"field": "force", "type": "quantitative", "axis": null}, "text": {"field": "label"}}}
   ]},
   {"width": 206, "height": 105, "title": {"text": "extensor", "fontSize": 21, "anchor": "middle", "frame": "group", "dx": -2, "offset": 43}, "resolve": {"axis": {"x": "independent", "y": "independent"}}, "layer": [
    {"data": {"name": "vfSE"}, "transform": [{"fold": ["c","m","b"], "as": ["series","force"]}], "mark": {"type": "line"},
     "encoding": {
      "x": {"field": "t", "type": "quantitative", "scale": {"domain": [0,100]}, "axis": {"values": [0,20,40,50,60,80,100], "labelExpr": "datum.value % 50 == 0 ? datum.label : ''", "tickOpacity": {"condition": {"test": "datum.value % 50 == 0", "value": 0}, "value": 1}, "labelOffset": {"condition": {"test": "datum.value != 50", "value": -8}, "value": 0}, "title": null}},
      "y": {"field": "force", "type": "quantitative", "scale": {"domain": [0,150]}, "axis": {"values": [50,100,150], "labelExpr": "datum.value == 100 ? '' : datum.label", "title": null}},
      "color": {"field": "series", "type": "nominal", "scale": {"domain": ["c","m","b"], "range": ["#27c6f0","#2277e6","#1818c8"]}, "legend": null}}},
    {"data": {"values": []}, "mark": "point", "encoding": {"x": {"field": "t", "type": "quantitative", "axis": {"orient": "top", "values": [20,40,60,80], "title": null}}, "y": {"field": "force", "type": "quantitative", "axis": {"orient": "right", "values": [50,100], "title": null}}}}
   ]},
   {"width": 206, "height": 105, "resolve": {"axis": {"x": "independent", "y": "independent"}}, "layer": [
    {"data": {"name": "vfBF"}, "transform": [{"fold": ["c","m","b"], "as": ["series","force"]}], "mark": {"type": "line"},
     "encoding": {
      "x": {"field": "t", "type": "quantitative", "scale": {"domain": [0,100]}, "axis": {"values": [0,20,40,50,60,80,100], "labelExpr": "datum.value % 50 == 0 ? datum.label : ''", "tickOpacity": {"condition": {"test": "datum.value % 50 == 0", "value": 0}, "value": 1}, "labelOffset": {"condition": {"test": "datum.value != 50", "value": -8}, "value": 0}, "title": null}},
      "y": {"field": "force", "type": "quantitative", "scale": {"domain": [0,150]}, "axis": {"values": [50,100,150], "labelExpr": "datum.value == 100 ? '' : datum.label", "title": "biarticular"}},
      "color": {"field": "series", "type": "nominal", "scale": {"domain": ["c","m","b"], "range": ["#27c6f0","#2277e6","#1818c8"]}, "legend": null}}},
    {"data": {"values": []}, "mark": "point", "encoding": {"x": {"field": "t", "type": "quantitative", "axis": {"orient": "top", "values": [20,40,60,80], "title": null}}, "y": {"field": "force", "type": "quantitative", "axis": {"orient": "right", "values": [50,100], "title": null}}}}
   ]},
   {"width": 206, "height": 105, "resolve": {"axis": {"x": "independent", "y": "independent"}}, "layer": [
    {"data": {"name": "vfBE"}, "transform": [{"fold": ["c","m","b"], "as": ["series","force"]}], "mark": {"type": "line"},
     "encoding": {
      "x": {"field": "t", "type": "quantitative", "scale": {"domain": [0,100]}, "axis": {"values": [0,20,40,50,60,80,100], "labelExpr": "datum.value == 50 ? 'trials' : (datum.value % 50 == 0 ? datum.label : '')", "labelFontSize": {"condition": {"test": "datum.value == 50", "value": 21}, "value": 18}, "tickOpacity": {"condition": {"test": "datum.value % 50 == 0", "value": 0}, "value": 1}, "labelOffset": {"condition": {"test": "datum.value != 50", "value": -8}, "value": 0}, "title": null}},
      "y": {"field": "force", "type": "quantitative", "scale": {"domain": [0,150]}, "axis": {"values": [50,100,150], "labelExpr": "datum.value == 100 ? '' : datum.label", "title": null}},
      "color": {"field": "series", "type": "nominal", "scale": {"domain": ["c","m","b"], "range": ["#27c6f0","#2277e6","#1818c8"]}, "legend": null}}},
    {"data": {"values": []}, "mark": "point", "encoding": {"x": {"field": "t", "type": "quantitative", "axis": {"orient": "top", "values": [20,40,60,80], "title": null}}, "y": {"field": "force", "type": "quantitative", "axis": {"orient": "right", "values": [50,100], "title": null}}}}
   ]},
   {"width": 206, "height": 105, "resolve": {"axis": {"x": "independent", "y": "independent"}}, "layer": [
    {"data": {"name": "vfEF"}, "transform": [{"fold": ["c","m","b"], "as": ["series","force"]}], "mark": {"type": "line"},
     "encoding": {
      "x": {"field": "t", "type": "quantitative", "scale": {"domain": [0,100]}, "axis": {"values": [0,20,40,50,60,80,100], "labelExpr": "datum.value % 50 == 0 ? datum.label : ''", "tickOpacity": {"condition": {"test": "datum.value % 50 == 0", "value": 0}, "value": 1}, "labelOffset": {"condition": {"test": "datum.value != 50", "value": -8}, "value": 0}, "title": null}},
      "y": {"field": "force", "type": "quantitative", "scale": {"domain": [0,150]}, "axis": {"values": [50,100,150], "labelExpr": "datum.value == 100 ? '' : datum.label", "title": "elbow"}},
      "color": {"field": "series", "type": "nominal", "scale": {"domain": ["c","m","b"], "range": ["#27c6f0","#2277e6","#1818c8"]}, "legend": null}}},
    {"data": {"values": []}, "mark": "point", "encoding": {"x": {"field": "t", "type": "quantitative", "axis": {"orient": "top", "values": [20,40,60,80], "title": null}}, "y": {"field": "force", "type": "quantitative", "axis": {"orient": "right", "values": [50,100], "title": null}}}}
   ]},
   {"width": 206, "height": 105, "resolve": {"axis": {"x": "independent", "y": "independent"}}, "layer": [
    {"data": {"name": "vfEE"}, "transform": [{"fold": ["c","m","b"], "as": ["series","force"]}], "mark": {"type": "line"},
     "encoding": {
      "x": {"field": "t", "type": "quantitative", "scale": {"domain": [0,100]}, "axis": {"values": [0,20,40,50,60,80,100], "labelExpr": "datum.value % 50 == 0 ? datum.label : ''", "tickOpacity": {"condition": {"test": "datum.value % 50 == 0", "value": 0}, "value": 1}, "labelOffset": {"condition": {"test": "datum.value != 50", "value": -8}, "value": 0}, "title": null}},
      "y": {"field": "force", "type": "quantitative", "scale": {"domain": [0,150]}, "axis": {"values": [50,100,150], "labelExpr": "datum.value == 100 ? '' : datum.label", "title": null}},
      "color": {"field": "series", "type": "nominal", "scale": {"domain": ["c","m","b"], "range": ["#27c6f0","#2277e6","#1818c8"]}, "legend": null}}},
    {"data": {"values": []}, "mark": "point", "encoding": {"x": {"field": "t", "type": "quantitative", "axis": {"orient": "top", "values": [20,40,60,80], "title": null}}, "y": {"field": "force", "type": "quantitative", "axis": {"orient": "right", "values": [50,100], "title": null}}}}
   ]}
 ]
},
{
 "bounds": "flush",
 "spacing": 151.3,
 "resolve": {"scale": {"color": "independent"}},
 "vconcat": [
  {"width": 439.6, "height": 357.7, "view": {"stroke": null},
   "title": {"text": "B", "subtitle": "absolute hand path error", "fontSize": 28, "subtitleFontSize": 26, "anchor": "middle", "frame": "group", "dx": -40, "offset": -45.6, "subtitlePadding": 13.6},
   "layer": [
    {"data": {"name": "hpe"},
     "mark": {"type": "line", "interpolate": "monotone", "strokeWidth": 2.2},
     "encoding": {
      "x": {"field": "trial", "type": "quantitative", "scale": {"domain": [0,100], "nice": false}, "axis": {"values": [0,20,40,60,80,100], "labelExpr": "datum.value == 80 ? 'trials' : datum.label", "labelFontSize": {"condition": {"test": "datum.value == 80", "value": 21}, "value": 18}, "labelOffset": {"condition": {"test": "datum.value == 0 || datum.value == 100", "value": -7}, "value": -3}, "tickOpacity": {"condition": {"test": "datum.value == 0", "value": 0}, "value": 1}, "domain": true, "domainColor": "#6e6e6e", "domainWidth": 1.2, "labelPadding": 10.5, "title": null}},
      "y": {"field": "error", "type": "quantitative", "scale": {"domain": [0,11.1], "nice": false}, "axis": {"values": [0,2,4,6,8], "labelExpr": "datum.value == 0 ? '' : datum.label", "tickOpacity": {"condition": {"test": "datum.value == 0", "value": 0}, "value": 1}, "domain": false, "labelPadding": 10.5, "title": ["x10⁻³", "m²"], "titleAngle": 0, "titleAlign": "left", "titleBaseline": "alphabetic", "titleX": -52, "titleY": 51, "titleFontSize": 18, "titleLineHeight": 17}},
      "color": {"field": "series", "type": "nominal", "scale": {"domain": ["cyan","blue","yellow","orange","red","green"], "range": ["#27d1ef","#1717c9","#f7e31b","#f28e1c","#e41a1c","#2e8b2e"]}, "legend": null}
     }},
    {"data": {"values": [{}]}, "mark": {"type": "rule", "color": "#6e6e6e", "strokeWidth": 1.2},
     "encoding": {"x": {"datum": 0}, "y": {"datum": 0}, "y2": {"datum": 9}}}
   ]
  },
  {"width": 468.16, "height": 360.8, "view": {"stroke": null},
   "title": {"text": "C", "subtitle": "stiffness ellipse", "fontSize": 30, "subtitleFontSize": 26, "anchor": "middle", "frame": "group", "dx": -48, "offset": 3.7, "subtitlePadding": 13},
   "layer": [
    {"data": {"name": "ell"}, "mark": {"type": "line", "interpolate": "cardinal-closed", "strokeWidth": 2},
     "encoding": {
      "x": {"field": "kx", "type": "quantitative", "scale": {"domain": [-464, 600], "nice": false}, "axis": null},
      "y": {"field": "ky", "type": "quantitative", "scale": {"domain": [-520, 300], "nice": false}, "axis": null},
      "order": {"field": "k", "type": "quantitative"},
      "color": {"field": "e", "type": "nominal", "scale": {"domain": ["yellow","gold","orange","red","cyan","midblue","blue","green","scale"], "range": ["#fde51a","#f6a51c","#ea6a2a","#e41a1c","#33d6f0","#2a7de1","#1a1ad6","#2b8c2b","#111111"]}, "legend": null}
     }},
    {"data": {"values": [{"kx": -7, "ky": -384, "k": 0}, {"kx": 43, "ky": -384, "k": 1}]}, "mark": {"type": "line", "color": "#111", "strokeWidth": 2},
     "encoding": {"x": {"field": "kx", "type": "quantitative", "axis": null}, "y": {"field": "ky", "type": "quantitative", "axis": null}, "order": {"field": "k", "type": "quantitative"}}},
    {"data": {"values": [{"kx": 2, "ky": -482, "label": "50 N/m"}]}, "mark": {"type": "text", "fontSize": 21, "align": "center", "baseline": "middle"},
     "encoding": {"x": {"field": "kx", "type": "quantitative", "axis": null}, "y": {"field": "ky", "type": "quantitative", "axis": null}, "text": {"field": "label"}}}
   ]
  }
 ]
}
]
}
